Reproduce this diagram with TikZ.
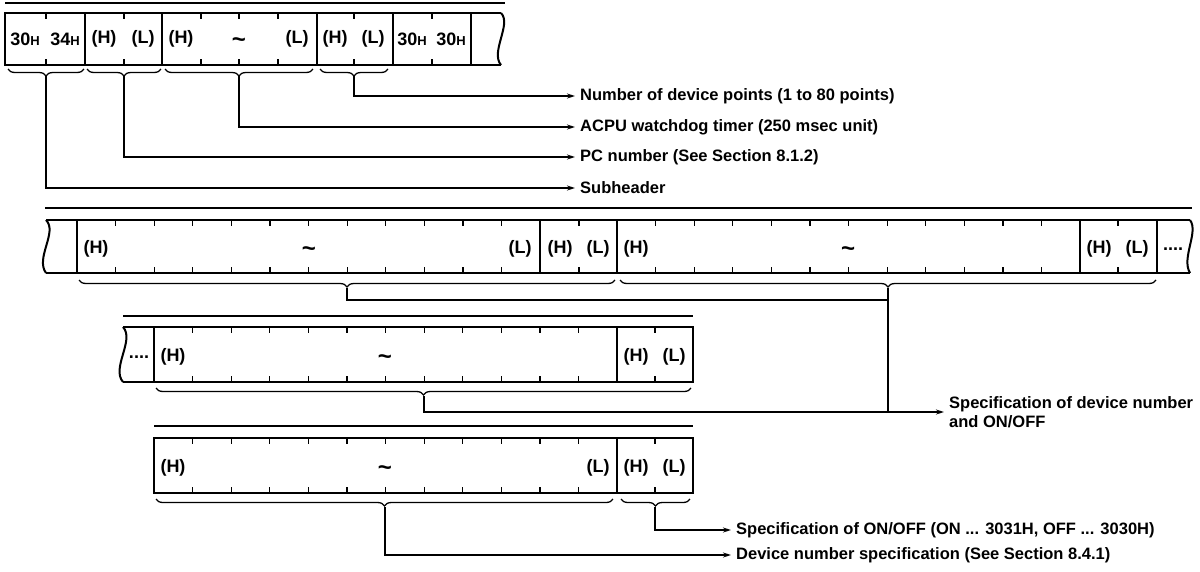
\documentclass[tikz,border=0pt]{standalone}
\usepackage{fontspec}
\setmainfont{Liberation Sans}
\usetikzlibrary{
    arrows.meta,
    decorations.pathreplacing,
    calc
}
\newcommand{\hexv}[1]{#1{\fontsize{13}{13}\selectfont H}}

\begin{document}
\begin{tikzpicture}[
    x=1pt, y=-1pt,
    frame/.style={line width=2pt},
    tick/.style={line width=1.2pt},
    lead/.style={line width=1.4pt},
    arrow/.style={lead, -{Stealth[length=8pt,width=5pt]}, shorten >=5pt},
    brc/.style={
        decorate,
        decoration={brace, mirror, amplitude=7pt},
        line width=1.3pt
    },
    cell/.style={font=\fontsize{18}{20}\selectfont\bfseries, inner sep=0pt},
    tld/.style={font=\fontsize{24}{24}\selectfont\bfseries, inner sep=0pt, yshift=-3pt},
    lbl/.style={
        font=\fontsize{16.5}{19}\selectfont\bfseries,
        anchor=west,
        inner sep=0pt,
        align=left
    }
]
\useasboundingbox (0,0) rectangle (1200,571);

% Header frame
\draw[frame] (5,3) -- (505,3);
\draw[frame] (501,13) -- (5,13) -- (5,65) -- (501,65);
\draw[frame] (501,13) .. controls (512,24) and (490,52) .. (501,65);
\foreach \x in {85,162,317,393,471}
    \draw[frame] (\x,13) -- (\x,65);
\foreach \x in {46,124,201,239,278,354,432}
    \draw[tick] (\x,13) -- +(0,6) (\x,65) -- +(0,-6);

\node[cell] (sh1) at (25,39) {\hexv{30}};
\node[cell] (sh2) at (65,39) {\hexv{34}};
\node[cell] (pch) at (104,39) {(H)};
\node[cell] (pcl) at (143,39) {(L)};
\node[cell] (wdh) at (181,39) {(H)};
\node[tld] (wdt) at (239,40) {\textasciitilde};
\node[cell] (wdl) at (297,39) {(L)};
\node[cell] (nph) at (335,39) {(H)};
\node[cell] (npl) at (373,39) {(L)};
\node[cell] (ex1) at (412,39) {\hexv{30}};
\node[cell] (ex2) at (451,39) {\hexv{30}};

% Header braces
\draw[brc] (8,69) -- (84,69);
\draw[brc] (87,69) -- (161,69);
\draw[brc] (165,69) -- (313,69);
\draw[brc] (320,69) -- (388,69);
\coordinate (t1) at (46,76);
\coordinate (t2) at (124,76);
\coordinate (t3) at (239,76);
\coordinate (t4) at (354,76);

% Header labels
\node[lbl] (lnum) at (580,96) {Number of device points (1 to 80 points)};
\node[lbl] (lacpu) at (580,127) {ACPU watchdog timer (250 msec unit)};
\node[lbl] (lpc) at (580,157) {PC number (See Section 8.1.2)};
\node[lbl] (lsub) at (580,188) {Subheader};

\draw[arrow] (t4) |- (lnum.west);
\draw[arrow] (t3) |- (lacpu.west);
\draw[arrow] (t2) |- (lpc.west);
\draw[arrow] (t1) |- (lsub.west);

% Device frame, first line
\draw[frame] (45,208) -- (1192,208);
\draw[frame] (46,220) -- (1190,220) (46,273) -- (1190,273);
\draw[frame] (46,220) .. controls (58,232) and (35,258) .. (46,273);
\draw[frame] (1190,220) .. controls (1199,232) and (1181,258) .. (1190,273);
\foreach \x in {77,540,617,1080,1157}
    \draw[frame] (\x,220) -- (\x,273);
\foreach \x in {77,617}
    \foreach \k in {1,...,11}
        \draw[tick] ({\x+38.6*\k},220) -- +(0,6) ({\x+38.6*\k},273) -- +(0,-6);
\foreach \x in {579,1118}
    \draw[tick] (\x,220) -- +(0,6) (\x,273) -- +(0,-6);

\node[cell] (dah) at (96,249) {(H)};
\node[tld] (dat) at (309,249) {\textasciitilde};
\node[cell] (dal) at (520,249) {(L)};
\node[cell] (sah) at (560,249) {(H)};
\node[cell] (sal) at (598,249) {(L)};
\node[cell] (dbh) at (636,249) {(H)};
\node[tld] (dbt) at (848,249) {\textasciitilde};
\node[cell] (sbh) at (1099,249) {(H)};
\node[cell] (sbl) at (1137,249) {(L)};
\node[cell] (dots1) at (1173,249) {....};

\draw[brc] (79,280) -- (615,280);
\draw[brc] (620,280) -- (1156,280);
\coordinate (t5) at (347,288);
\coordinate (t6) at (888,288);
\coordinate (j1) at (888,300);

% Device frame, second line
\draw[frame] (123,316) -- (693,316);
\draw[frame] (123,327) -- (693,327) -- (693,382) -- (123,382);
\draw[frame] (123,327) .. controls (135,340) and (111,368) .. (123,382);
\foreach \x in {154,617}
    \draw[frame] (\x,327) -- (\x,382);
\foreach \k in {1,...,11}
    \draw[tick] ({154+38.6*\k},327) -- +(0,6) ({154+38.6*\k},382) -- +(0,-6);
\draw[tick] (655,327) -- +(0,6) (655,382) -- +(0,-6);

\node[cell] (dots2) at (139,357) {....};
\node[cell] (dch) at (173,357) {(H)};
\node[tld] (dct) at (385,357) {\textasciitilde};
\node[cell] (sch) at (636,357) {(H)};
\node[cell] (scl) at (674,357) {(L)};

\draw[brc] (156,388) -- (691,388);
\coordinate (t7) at (424,396);

\node[lbl] (lspec) at (949,412) {Specification of device number\\and ON/OFF};

\draw[lead] (t5) |- (j1);
\draw[lead] (t6) -- (t6 |- lspec.west);
\draw[arrow] (t7) |- (lspec.west);

% Single device
\draw[frame] (154,426) -- (693,426);
\draw[frame] (154,438) rectangle (693,493);
\draw[frame] (617,438) -- (617,493);
\foreach \k in {1,...,11}
    \draw[tick] ({154+38.6*\k},438) -- +(0,6) ({154+38.6*\k},493) -- +(0,-6);
\draw[tick] (655,438) -- +(0,6) (655,493) -- +(0,-6);

\node[cell] (ddh) at (173,468) {(H)};
\node[tld] (ddt) at (385,468) {\textasciitilde};
\node[cell] (ddl) at (598,468) {(L)};
\node[cell] (sdh) at (636,468) {(H)};
\node[cell] (sdl) at (674,468) {(L)};

\draw[brc] (156,499) -- (613,499);
\draw[brc] (621,499) -- (690,499);
\coordinate (t8) at (385,507);
\coordinate (t9) at (655,507);

\node[lbl] (lonoff) at (736,530) {Specification of ON/OFF (ON ... 3031H, OFF ... 3030H)};
\node[lbl] (ldev) at (736,555) {Device number specification (See Section 8.4.1)};

\draw[arrow] (t9) |- (lonoff.west);
\draw[arrow] (t8) |- (ldev.west);

\end{tikzpicture}
\end{document}
